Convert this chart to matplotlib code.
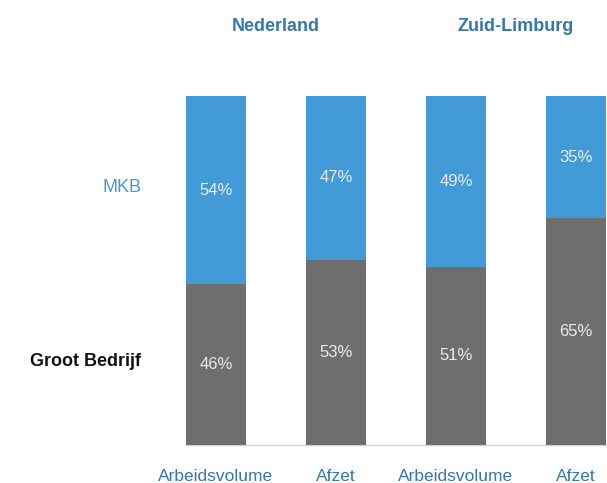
import matplotlib
matplotlib.use("Agg")
import matplotlib.pyplot as plt

# data
regions = ["Nederland", "Zuid-Limburg"]
categories = ["Arbeidsvolume", "Afzet", "Arbeidsvolume", "Afzet"]
groot = [46, 53, 51, 65]
mkb = [54, 47, 49, 35]
series_labels = ["MKB", "Groot Bedrijf"]

_BLUE = "#429bd6"
_GRAY = "#6e6e6e"
_HEAD = "#3577b1"
_TXT = "#eaeaea"

plt.rcParams["font.family"] = ["Liberation Sans Narrow", "Liberation Sans", "DejaVu Sans"]

fig = plt.figure(figsize=(6.07, 4.83), dpi=100)
ax = fig.add_axes([0, 0, 1, 1])
ax.set_xlim(-1.8, 3.258)
ax.set_ylim(-0.109, 1.275)
ax.axis("off")

x = list(range(len(categories)))
g = [v / 100 for v in groot]
m = [v / 100 for v in mkb]
ax.plot([-0.25, 3.3], [0, 0], color="#c9d3dd", lw=1, zorder=1)
ax.bar(x, g, width=0.5, color=_GRAY, zorder=2)
ax.bar(x, m, width=0.5, bottom=g, color=_BLUE, zorder=2)

for i in x:
    ax.text(i, g[i] / 2, f"{groot[i]}%", ha="center", va="center", color=_TXT, fontsize=12)
    ax.text(i, g[i] + m[i] / 2, f"{mkb[i]}%", ha="center", va="center", color=_TXT, fontsize=12)
    ax.text(i, -0.089, categories[i], ha="center", va="center", color=_HEAD, fontsize=12.5)

for j, r in enumerate(regions):
    ax.text(0.5 + 2 * j, 1.198, r, ha="center", va="center", color=_HEAD,
            fontsize=13, fontweight="bold")

ax.text(-0.625, 0.739, series_labels[0], ha="right", va="center", color=_BLUE, fontsize=13)
ax.text(-0.625, 0.238, series_labels[1], ha="right", va="center", color="#111111",
        fontsize=13, fontweight="bold")

fig.savefig("out.png", dpi=100)
